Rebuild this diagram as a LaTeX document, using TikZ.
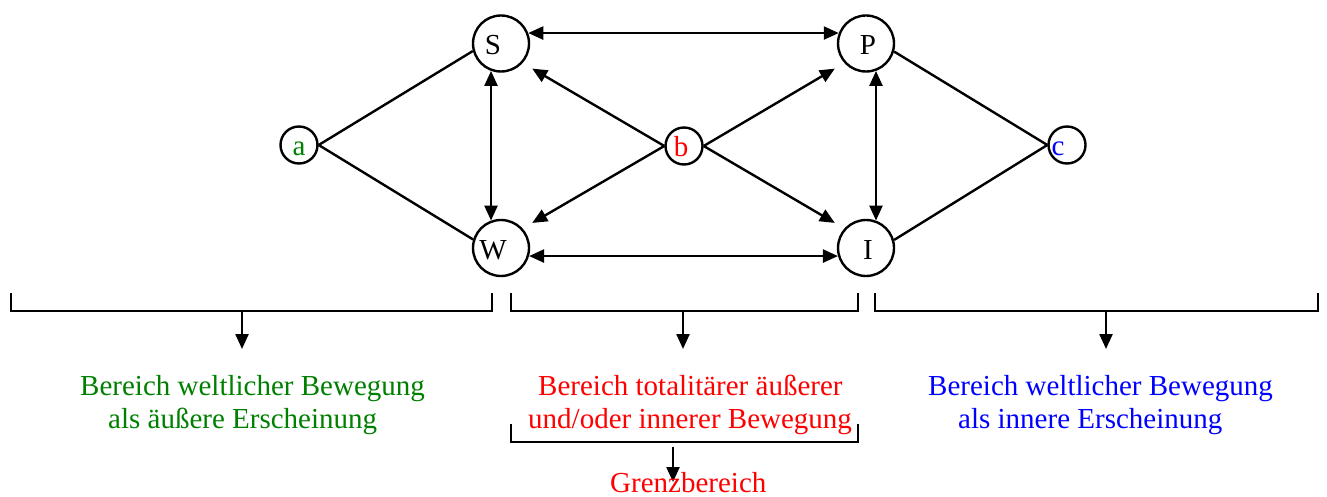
\documentclass[tikz,border=0pt]{standalone}
\usepackage{fontspec}
\setmainfont{Liberation Serif}
\usetikzlibrary{arrows.meta}
\definecolor{tgreen}{RGB}{0,128,0}
\definecolor{tred}{RGB}{255,0,0}
\definecolor{tblue}{RGB}{0,0,255}
\begin{document}
\begin{tikzpicture}[x=1pt,y=-1pt,
  big/.style={circle,draw,line width=2.4pt,minimum size=56pt,inner sep=0pt},
  small/.style={circle,draw,line width=2.4pt,minimum size=37pt,inner sep=0pt},
  lab/.style={font=\fontsize{29}{33}\selectfont,text height=22pt,text depth=0pt,inner sep=0pt},
  ln/.style={line width=2.4pt},
  arr/.style={line width=2.4pt,-{Triangle[length=15pt,width=13pt]}},
  darr/.style={line width=2.4pt,{Triangle[length=15pt,width=13pt]}-{Triangle[length=15pt,width=13pt]}},
  txt/.style={font=\fontsize{29}{33}\selectfont,inner sep=0pt,anchor=base west}]
\useasboundingbox (0,0) rectangle (1327,497);
% vertices
\node[big,label={[lab,xshift=-8pt]center:S}] (S) at (501,43.5) {};
\node[big,label={[lab,xshift=-8pt]center:W}] (W) at (501,248) {};
\node[big,label={[lab,xshift=2pt]center:P}] (P) at (866,43.5) {};
\node[big,label={[lab,xshift=2pt]center:I}] (I) at (866,248) {};
\node[small,label={[lab,text=tgreen]center:a}] (a) at (299,145) {};
\node[small,label={[lab,text=tred,xshift=-3pt]center:b}] (b) at (684,146) {};
\node[small,label={[lab,text=tblue,xshift=-9pt]center:c}] (c) at (1067,145) {};
% edges
\draw[ln] (a.east) -- (S.195);
\draw[ln] (a.east) -- (W.163);
\draw[ln] (P.-16) -- (c.west);
\draw[ln] (I.16) -- (c.west);
\draw[darr] (S.250) -- (W.110);
\draw[darr] (P.290) -- (I.70);
\draw[darr] (S.21) -- (P.159);
\draw[darr] (W.-16) -- (I.196);
\draw[arr,shorten >=11pt] (b.west) -- (S.-42);
\draw[arr,shorten >=11pt] (b.west) -- (W.42);
\draw[arr,shorten >=11pt] (b.east) -- (P.222);
\draw[arr,shorten >=11pt] (b.east) -- (I.138);
% brackets
\coordinate (L1) at (11,293); \coordinate (L2) at (492,293);
\coordinate (M1) at (511,293); \coordinate (M2) at (858,293);
\coordinate (R1) at (875,293); \coordinate (R2) at (1318,293);
\coordinate (N1) at (511,424); \coordinate (N2) at (858,424);
\draw[ln] (L1) -- ++(0,18) -| (L2);
\draw[ln] (M1) -- ++(0,18) -| (M2);
\draw[ln] (R1) -- ++(0,18) -| (R2);
\draw[ln] (N1) -- ++(0,18) -| (N2);
\coordinate (La) at (242,311); \coordinate (Lb) at (242,349);
\coordinate (Ma) at (683,311); \coordinate (Mb) at (683,349);
\coordinate (Ra) at (1106,311); \coordinate (Rb) at (1106,349);
\coordinate (Na) at (673,447); \coordinate (Nb) at (673,482);
\draw[arr] (La) -- (Lb);
\draw[arr] (Ma) -- (Mb);
\draw[arr] (Ra) -- (Rb);
\draw[arr] (Na) -- (Nb);
% texts
\node[txt,text=tgreen] (g1) at (80,395) {Bereich weltlicher Bewegung};
\node[txt,text=tgreen] (g2) at (108,428) {als äußere Erscheinung};
\node[txt,text=tred] (r1) at (538,395) {Bereich totalitärer äußerer};
\node[txt,text=tred] (r2) at (528,428) {und/oder innerer Bewegung};
\node[txt,text=tred] (r3) at (610,492) {Grenzbereich};
\node[txt,text=tblue] (b1) at (928,395) {Bereich weltlicher Bewegung};
\node[txt,text=tblue] (b2) at (958,428) {als innere Erscheinung};
\end{tikzpicture}
\end{document}
